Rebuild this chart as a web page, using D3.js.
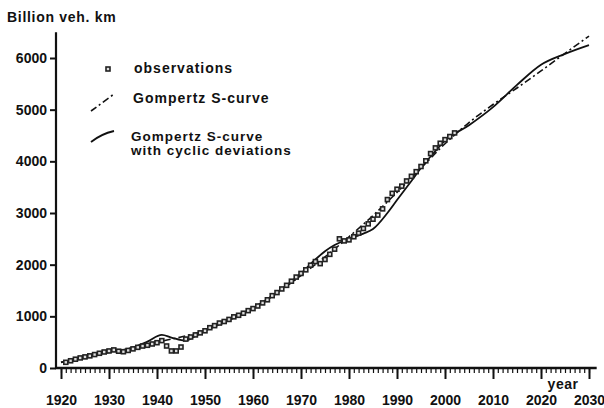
<!DOCTYPE html>
<html>
<head>
<meta charset="utf-8">
<script src="https://cdn.jsdelivr.net/npm/d3@7"></script>
<style>
  body { margin: 0; background: #fff; }
  text { font-family: "Liberation Sans", Arial, sans-serif; font-weight: bold; fill: #111; }
  .axis path { display: none; }
  .axis line { stroke: #111; }
  .legend text { letter-spacing: 1px; }
</style>
</head>
<body>
<div id="chart"></div>
<script>
// observed road traffic, billion vehicle km
const obsYears = [1921,1922,1923,1924,1925,1926,1927,1928,1929,1930,
  1931,1932,1933,1934,1935,1936,1937,1938,1939,1940,
  1941,1942,1943,1944,1945,1946,1947,1948,1949,1950,
  1951,1952,1953,1954,1955,1956,1957,1958,1959,1960,
  1961,1962,1963,1964,1965,1966,1967,1968,1969,1970,
  1971,1972,1973,1974,1975,1976,1977,1978,1979,1980,
  1981,1982,1983,1984,1985,1986,1987,1988,1989,1990,
  1991,1992,1993,1994,1995,1996,1997,1998,1999,2000,
  2001,2002];
const obsValues = [110,140,170,195,215,235,260,285,310,330,
  350,325,315,340,370,400,425,440,465,490,
  530,426,330,330,406,560,600,640,680,720,
  780,820,870,900,940,990,1020,1060,1110,1150,
  1200,1260,1320,1400,1460,1530,1600,1680,1760,1830,
  1900,1990,2060,2020,2100,2200,2300,2500,2460,2480,
  2540,2610,2700,2790,2880,2960,3080,3260,3380,3460,
  3520,3620,3710,3800,3900,4010,4150,4260,4350,4420,
  4480,4550];

// Gompertz S-curve
const gompYears = [1920,1925,1930,1935,1940,1945,1950,1955,1960,1965,1970,1975,
  1980,1985,1990,1995,2000,2005,2010,2015,2020,2025,2030];
const gompValues = [110,200,300,390,500,600,730,920,1150,1450,1790,2150,
  2540,2950,3400,3870,4340,4750,5100,5420,5750,6090,6425];

// Gompertz S-curve with cyclic deviations
const cycYears = [1920,1925,1930,1932,1935,1938,1941,1943,1946,1948,1950,1955,
  1960,1965,1970,1973,1975,1977,1980,1983,1985,1988,1990,1993,1995,1998,
  2000,2005,2010,2015,2020,2025,2030];
const cycValues = [110,210,340,335,400,510,640,590,530,620,720,930,
  1160,1460,1830,2100,2260,2380,2500,2600,2690,3000,3250,3620,3870,4200,
  4400,4700,5050,5480,5870,6080,6250];

const yTicks = [0,1000,2000,3000,4000,5000,6000];
const xDecades = d3.range(1920, 2031, 10);
const xYears = d3.range(1920, 2031, 1);

const width = 604, height = 408;

const svg = d3.select("#chart")
  .append("svg")
  .attr("width", width)
  .attr("height", height);

const x = d3.scaleLinear()
  .domain([1920, 2030])
  .range([61, 589]);

const y = d3.scaleLinear()
  .domain([0, 6000])
  .range([368, 58]);

// y axis
svg.append("line")
  .attr("x1", 56).attr("x2", 56)
  .attr("y1", y(0) + 1).attr("y2", y(6500))
  .attr("stroke", "#111").attr("stroke-width", 2.2);

svg.append("g")
  .attr("class", "axis")
  .attr("transform", "translate(56,0)")
  .call(d3.axisLeft(y).tickValues(yTicks).tickSize(6).tickPadding(3).tickFormat(d3.format("d")))
  .call(g => g.selectAll("line").attr("stroke-width", 2))
  .call(g => g.selectAll("text").attr("font-size", 14).attr("font-family", null).style("fill", "#111"));

// x axis
svg.append("line")
  .attr("x1", x(1918.8)).attr("x2", x(2031.6))
  .attr("y1", 368).attr("y2", 368)
  .attr("stroke", "#111").attr("stroke-width", 2.6);

svg.append("g")
  .attr("class", "axis")
  .attr("transform", "translate(0,368)")
  .call(d3.axisBottom(x).tickValues(xYears).tickSize(5).tickFormat(""))
  .call(g => g.selectAll("line").attr("stroke-width", 1.2));

svg.append("g")
  .attr("class", "axis")
  .attr("transform", "translate(0,368)")
  .call(d3.axisBottom(x).tickValues(xDecades).tickSize(11).tickPadding(16).tickFormat(d3.format("d")))
  .call(g => g.selectAll("line").attr("stroke-width", 2))
  .call(g => g.selectAll("text").attr("font-size", 14).attr("font-family", null).style("fill", "#111"));

svg.append("text")
  .attr("x", 563)
  .attr("y", 389)
  .attr("text-anchor", "middle")
  .attr("font-size", 14)
  .attr("letter-spacing", "0.5px")
  .text("year");

svg.append("text")
  .attr("x", 7)
  .attr("y", 22)
  .attr("font-size", 14)
  .attr("letter-spacing", "0.7px")
  .text("Billion veh. km");

// curves
const line = d3.line()
  .x(d => x(d[0]))
  .y(d => y(d[1]))
  .curve(d3.curveMonotoneX);

svg.append("path")
  .datum(d3.zip(gompYears, gompValues))
  .attr("d", line)
  .attr("fill", "none")
  .attr("stroke", "#111")
  .attr("stroke-width", 1.6)
  .attr("stroke-dasharray", "7,3,2,3");

svg.append("path")
  .datum(d3.zip(cycYears, cycValues))
  .attr("d", line)
  .attr("fill", "none")
  .attr("stroke", "#111")
  .attr("stroke-width", 1.8);

// observations
svg.append("g")
  .selectAll("rect")
  .data(d3.zip(obsYears, obsValues))
  .enter()
  .append("rect")
    .attr("x", d => x(d[0]) - 2)
    .attr("y", d => y(d[1]) - 2)
    .attr("width", 4)
    .attr("height", 4)
    .attr("fill", "#ddd")
    .attr("stroke", "#222")
    .attr("stroke-width", 1.6);

// legend
const legend = svg.append("g").attr("class", "legend");
legend.append("rect")
  .attr("x", 106).attr("y", 67)
  .attr("width", 4).attr("height", 4)
  .attr("fill", "#ddd").attr("stroke", "#222").attr("stroke-width", 1.6);
legend.append("text").attr("x", 134).attr("y", 73).attr("font-size", 14).text("observations");

legend.append("path")
  .attr("d", "M91,111 Q102,103 114,94")
  .attr("fill", "none").attr("stroke", "#111").attr("stroke-width", 1.6)
  .attr("stroke-dasharray", "7,3,2,3");
legend.append("text").attr("x", 133).attr("y", 103).attr("font-size", 14).text("Gompertz S-curve");

legend.append("path")
  .attr("d", "M91,142 Q101,134 114,131")
  .attr("fill", "none").attr("stroke", "#111").attr("stroke-width", 1.8);
legend.append("text").attr("x", 131).attr("y", 140.5).attr("font-size", 13.5).text("Gompertz S-curve");
legend.append("text").attr("x", 131).attr("y", 154.5).attr("font-size", 13.5).text("with cyclic deviations");
</script>
</body>
</html>
